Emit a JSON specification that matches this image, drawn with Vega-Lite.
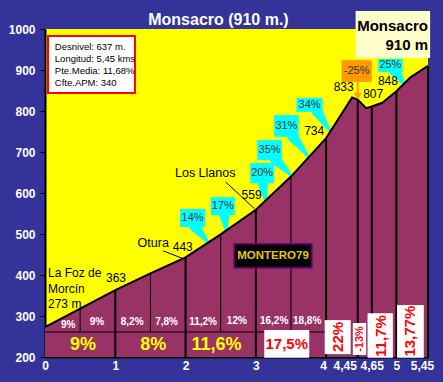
{
  "$schema": "https://vega.github.io/schema/vega-lite/v6.json",
  "width": 383,
  "height": 328,
  "autosize": {"type": "none"},
  "padding": {"left": 45, "top": 29, "right": 15, "bottom": 25},
  "background": "#333399",
  "config": {
    "view": {"fill": "#FFFF00", "stroke": null},
    "font": "Liberation Sans",
    "text": {"font": "Liberation Sans"}
  },
  "datasets": {
    "titletext": [{"label": "Monsacro (910 m.)", "x": 2.468, "y": 1010}],
    "profile": [
      {"x": 0, "y": 273}, {"x": 0.5, "y": 318}, {"x": 1, "y": 363}, {"x": 1.5, "y": 404},
      {"x": 2, "y": 443}, {"x": 2.5, "y": 499}, {"x": 3, "y": 559}, {"x": 3.5, "y": 640},
      {"x": 4, "y": 734}, {"x": 4.37, "y": 833}, {"x": 4.45, "y": 828}, {"x": 4.57, "y": 807},
      {"x": 4.65, "y": 811}, {"x": 4.8, "y": 820}, {"x": 5, "y": 848}, {"x": 5.2, "y": 882}, {"x": 5.45, "y": 910}
    ],
    "halfrules": [
      {"x": 0.5, "y": 318, "y2": 261}, {"x": 1.5, "y": 404, "y2": 261},
      {"x": 2.5, "y": 499, "y2": 261}, {"x": 3.5, "y": 640, "y2": 261}
    ],
    "fullrules": [
      {"x": 1, "y": 363, "y2": 200}, {"x": 2, "y": 443, "y2": 200}, {"x": 3, "y": 559, "y2": 200},
      {"x": 4, "y": 734, "y2": 200}, {"x": 4.45, "y": 828, "y2": 200}, {"x": 4.65, "y": 811, "y2": 200},
      {"x": 5, "y": 848, "y2": 200}, {"x": 5.45, "y": 910, "y2": 200}
    ],
    "hline": [{"x": 0, "x2": 4, "y": 261}],
    "pointers": [
      {"id": "14", "t": 0, "x": 2.13, "y": 519}, {"id": "14", "t": 1, "x": 2.33, "y": 478},
      {"id": "17", "t": 0, "x": 2.55, "y": 548}, {"id": "17", "t": 1, "x": 2.58, "y": 506},
      {"id": "20", "t": 0, "x": 3.10, "y": 626}, {"id": "20", "t": 1, "x": 3.14, "y": 578},
      {"id": "35", "t": 0, "x": 3.28, "y": 682}, {"id": "35", "t": 1, "x": 3.52, "y": 640},
      {"id": "31", "t": 0, "x": 3.52, "y": 739}, {"id": "31", "t": 1, "x": 3.76, "y": 686},
      {"id": "34", "t": 0, "x": 3.87, "y": 800}, {"id": "34", "t": 1, "x": 4.06, "y": 750},
      {"id": "25", "t": 0, "x": 4.98, "y": 897}, {"id": "25", "t": 1, "x": 5.13, "y": 862}
    ],
    "callouts": [
      {"label": "14%", "x1": 1.92, "x2": 2.28, "y1": 561, "y2": 517, "cx": 2.10, "cy": 539},
      {"label": "17%", "x1": 2.36, "x2": 2.70, "y1": 590, "y2": 546, "cx": 2.53, "cy": 568},
      {"label": "20%", "x1": 2.92, "x2": 3.26, "y1": 673, "y2": 624, "cx": 3.09, "cy": 649},
      {"label": "35%", "x1": 3.02, "x2": 3.37, "y1": 729, "y2": 680, "cx": 3.195, "cy": 705},
      {"label": "31%", "x1": 3.26, "x2": 3.61, "y1": 790, "y2": 737, "cx": 3.435, "cy": 763},
      {"label": "34%", "x1": 3.58, "x2": 3.95, "y1": 832, "y2": 798, "cx": 3.765, "cy": 815},
      {"label": "25%", "x1": 4.74, "x2": 5.09, "y1": 927, "y2": 895, "cx": 4.915, "cy": 911}
    ],
    "orange": [{"label": "-25%", "x1": 4.22, "x2": 4.65, "y1": 924, "y2": 871, "cx": 4.435, "cy": 898, "ax": 4.45, "ay": 871, "ay2": 842, "hy": 836}],
    "alts": [
      {"label": "363", "x": 1.01, "y": 393}, {"label": "443", "x": 1.96, "y": 468},
      {"label": "559", "x": 2.94, "y": 595}, {"label": "734", "x": 3.83, "y": 751},
      {"label": "833", "x": 4.25, "y": 859}, {"label": "807", "x": 4.67, "y": 841},
      {"label": "848", "x": 4.88, "y": 873}
    ],
    "places": [
      {"label": "La Foz de", "x": 0.043, "y": 405, "a": "left"},
      {"label": "Morcín", "x": 0.043, "y": 366, "a": "left"},
      {"label": "273 m", "x": 0.043, "y": 329, "a": "left"},
      {"label": "Otura", "x": 1.54, "y": 478, "a": "center"},
      {"label": "Los Llanos", "x": 2.28, "y": 649, "a": "center"}
    ],
    "leaders": [
      {"x": 1.68, "y": 459, "x2": 1.95, "y2": 441},
      {"x": 2.57, "y": 627, "x2": 2.98, "y2": 562}
    ],
    "small": [
      {"label": "9%", "x": 0.33, "y": 279}, {"label": "9%", "x": 0.74, "y": 285},
      {"label": "8,2%", "x": 1.24, "y": 285}, {"label": "7,8%", "x": 1.73, "y": 286},
      {"label": "11,2%", "x": 2.25, "y": 285}, {"label": "12%", "x": 2.73, "y": 289},
      {"label": "16,2%", "x": 3.26, "y": 287}, {"label": "18,8%", "x": 3.73, "y": 287}
    ],
    "big": [
      {"label": "9%", "x": 0.54, "y": 229}, {"label": "8%", "x": 1.54, "y": 229}, {"label": "11,6%", "x": 2.44, "y": 229}
    ],
    "wboxes": [
      {"label": "17,5%", "x1": 3.12, "x2": 3.76, "y1": 266, "y2": 198, "cx": 3.44, "cy": 232, "kind": "h"},
      {"label": "22%", "x1": 3.98, "x2": 4.35, "y1": 290, "y2": 207, "cx": 4.17, "cy": 249, "kind": "v"},
      {"label": "-13%", "x1": 4.38, "x2": 4.57, "y1": 283, "y2": 205, "cx": 4.48, "cy": 244, "kind": "s"},
      {"label": "11,7%", "x1": 4.59, "x2": 4.95, "y1": 307, "y2": 198, "cx": 4.78, "cy": 251, "kind": "v"},
      {"label": "13,77%", "x1": 5.01, "x2": 5.39, "y1": 327, "y2": 198, "cx": 5.19, "cy": 263, "kind": "v"}
    ],
    "montero": [{"label": "MONTERO79", "x1": 2.69, "x2": 3.80, "y1": 476, "y2": 417, "cx": 3.245, "cy": 446}],
    "summit": [{"x1": 4.42, "x2": 5.48, "y1": 1044, "y2": 929}],
    "summittext": [{"label": "Monsacro", "x": 5.45, "y": 995}, {"label": "910 m", "x": 5.45, "y": 949}],
    "info": [{"x1": 0.043, "x2": 1.28, "y1": 983, "y2": 844}],
    "infotext": [
      {"label": "Desnivel: 637 m.", "x": 0.14, "y": 956},
      {"label": "Longitud: 5,45 kms", "x": 0.14, "y": 927},
      {"label": "Pte.Media: 11,68%", "x": 0.14, "y": 897},
      {"label": "Cfte.APM: 340", "x": 0.14, "y": 868}
    ]
  },
  "layer": [
    {
      "data": {"name": "profile"},
      "mark": {"type": "area", "color": "#993366"},
      "encoding": {
        "x": {"field": "x", "type": "quantitative", "title": null,
          "scale": {"domain": [0, 5.45], "nice": false, "zero": false},
          "axis": {"values": [0, 1, 2, 3, 4, 4.45, 4.65, 5, 5.45], "grid": false, "ticks": false,
            "domainColor": "black", "domainWidth": 2, "labelColor": "white", "labelFont": "Liberation Sans",
            "labelFontSize": 12, "labelFontWeight": "bold", "labelPadding": 3, "labelOverlap": false, "labelBound": false,
            "labelFlush": false,
            "labelExpr": "replace(toString(datum.value), '.', ',')",
            "labelOffset": {"condition": [{"test": "datum.value == 4.45", "value": -13}, {"test": "datum.value == 5.45", "value": -6}, {"test": "datum.value == 4", "value": -3}], "value": 0}}},
        "y": {"field": "y", "type": "quantitative", "title": null,
          "scale": {"domain": [200, 1000], "nice": false, "zero": false},
          "axis": {"values": [200, 300, 400, 500, 600, 700, 800, 900, 1000], "grid": false, "format": "d",
            "domainColor": "black", "domainWidth": 2, "tickColor": "black", "tickSize": 5, "tickWidth": 1,
            "labelColor": "white", "labelFont": "Liberation Sans", "labelFontSize": 12, "labelFontWeight": "bold",
            "labelPadding": 5, "labelOverlap": false, "labelBound": false, "labelFlush": false}},
        "y2": {"datum": 200}
      }
    },
    {
      "data": {"name": "pointers"},
      "mark": {"type": "trail", "color": "#00FFFF"},
      "encoding": {
        "x": {"field": "x", "type": "quantitative"},
        "y": {"field": "y", "type": "quantitative"},
        "detail": {"field": "id"},
        "order": {"field": "t"},
        "size": {"field": "t", "type": "quantitative", "scale": {"domain": [0, 1], "range": [11, 2]}, "legend": null}
      }
    },
    {
      "data": {"name": "profile"},
      "mark": {"type": "area", "color": "#993366"},
      "encoding": {
        "x": {"field": "x", "type": "quantitative"},
        "y": {"field": "y", "type": "quantitative"},
        "y2": {"datum": 200}
      }
    },
    {
      "data": {"name": "profile"},
      "mark": {"type": "line", "color": "black", "strokeWidth": 2},
      "encoding": {
        "x": {"field": "x", "type": "quantitative"},
        "y": {"field": "y", "type": "quantitative"}
      }
    },
    {
      "data": {"name": "halfrules"},
      "mark": {"type": "rule", "color": "black", "strokeWidth": 1},
      "encoding": {
        "x": {"field": "x", "type": "quantitative"},
        "y": {"field": "y", "type": "quantitative"},
        "y2": {"field": "y2"}
      }
    },
    {
      "data": {"name": "fullrules"},
      "mark": {"type": "rule", "color": "black", "strokeWidth": 2},
      "encoding": {
        "x": {"field": "x", "type": "quantitative"},
        "y": {"field": "y", "type": "quantitative"},
        "y2": {"field": "y2"}
      }
    },
    {
      "data": {"name": "hline"},
      "mark": {"type": "rule", "color": "black", "strokeWidth": 1},
      "encoding": {
        "x": {"field": "x", "type": "quantitative"},
        "x2": {"field": "x2"},
        "y": {"field": "y", "type": "quantitative"}
      }
    },
    {
      "data": {"name": "callouts"},
      "mark": {"type": "rect", "color": "#00FFFF"},
      "encoding": {
        "x": {"field": "x1", "type": "quantitative"}, "x2": {"field": "x2"},
        "y": {"field": "y1", "type": "quantitative"}, "y2": {"field": "y2"}
      }
    },
    {
      "data": {"name": "callouts"},
      "mark": {"type": "text", "color": "#333333", "fontSize": 11, "align": "center", "baseline": "middle"},
      "encoding": {
        "x": {"field": "cx", "type": "quantitative"},
        "y": {"field": "cy", "type": "quantitative"},
        "text": {"field": "label"}
      }
    },
    {
      "data": {"name": "orange"},
      "mark": {"type": "rule", "color": "#FF9900", "strokeWidth": 2},
      "encoding": {
        "x": {"field": "ax", "type": "quantitative"},
        "y": {"field": "ay", "type": "quantitative"}, "y2": {"field": "ay2"}
      }
    },
    {
      "data": {"name": "orange"},
      "mark": {"type": "point", "shape": "triangle-down", "filled": true, "color": "#FF9900", "size": 60, "opacity": 1},
      "encoding": {
        "x": {"field": "ax", "type": "quantitative"},
        "y": {"field": "hy", "type": "quantitative"}
      }
    },
    {
      "data": {"name": "orange"},
      "mark": {"type": "rect", "color": "#FF9900"},
      "encoding": {
        "x": {"field": "x1", "type": "quantitative"}, "x2": {"field": "x2"},
        "y": {"field": "y1", "type": "quantitative"}, "y2": {"field": "y2"}
      }
    },
    {
      "data": {"name": "orange"},
      "mark": {"type": "text", "color": "#333333", "fontSize": 11, "align": "center", "baseline": "middle"},
      "encoding": {
        "x": {"field": "cx", "type": "quantitative"},
        "y": {"field": "cy", "type": "quantitative"},
        "text": {"field": "label"}
      }
    },
    {
      "data": {"name": "alts"},
      "mark": {"type": "text", "color": "black", "fontSize": 12, "align": "center", "baseline": "middle"},
      "encoding": {
        "x": {"field": "x", "type": "quantitative"},
        "y": {"field": "y", "type": "quantitative"},
        "text": {"field": "label"}
      }
    },
    {
      "data": {"name": "places"},
      "transform": [{"filter": "datum.a == 'left'"}],
      "mark": {"type": "text", "color": "black", "fontSize": 12, "align": "left", "baseline": "middle"},
      "encoding": {
        "x": {"field": "x", "type": "quantitative"},
        "y": {"field": "y", "type": "quantitative"},
        "text": {"field": "label"}
      }
    },
    {
      "data": {"name": "places"},
      "transform": [{"filter": "datum.a == 'center'"}],
      "mark": {"type": "text", "color": "black", "fontSize": 12.5, "align": "center", "baseline": "middle"},
      "encoding": {
        "x": {"field": "x", "type": "quantitative"},
        "y": {"field": "y", "type": "quantitative"},
        "text": {"field": "label"}
      }
    },
    {
      "data": {"name": "leaders"},
      "mark": {"type": "rule", "color": "black", "strokeWidth": 1},
      "encoding": {
        "x": {"field": "x", "type": "quantitative"}, "x2": {"field": "x2"},
        "y": {"field": "y", "type": "quantitative"}, "y2": {"field": "y2"}
      }
    },
    {
      "data": {"name": "small"},
      "mark": {"type": "text", "color": "white", "fontSize": 10, "fontWeight": "bold", "align": "center", "baseline": "middle"},
      "encoding": {
        "x": {"field": "x", "type": "quantitative"},
        "y": {"field": "y", "type": "quantitative"},
        "text": {"field": "label"}
      }
    },
    {
      "data": {"name": "big"},
      "mark": {"type": "text", "color": "#FFFF00", "fontSize": 18, "fontWeight": "bold", "align": "center", "baseline": "middle"},
      "encoding": {
        "x": {"field": "x", "type": "quantitative"},
        "y": {"field": "y", "type": "quantitative"},
        "text": {"field": "label"}
      }
    },
    {
      "data": {"name": "wboxes"},
      "mark": {"type": "rect", "color": "white"},
      "encoding": {
        "x": {"field": "x1", "type": "quantitative"}, "x2": {"field": "x2"},
        "y": {"field": "y1", "type": "quantitative"}, "y2": {"field": "y2"}
      }
    },
    {
      "data": {"name": "wboxes"},
      "transform": [{"filter": "datum.kind == 'h'"}],
      "mark": {"type": "text", "color": "#FF0000", "fontSize": 15, "fontWeight": "bold", "align": "center", "baseline": "middle"},
      "encoding": {
        "x": {"field": "cx", "type": "quantitative"},
        "y": {"field": "cy", "type": "quantitative"},
        "text": {"field": "label"}
      }
    },
    {
      "data": {"name": "wboxes"},
      "transform": [{"filter": "datum.kind == 'v'"}],
      "mark": {"type": "text", "color": "#FF0000", "fontSize": 15, "fontWeight": "bold", "align": "center", "baseline": "middle", "angle": 270},
      "encoding": {
        "x": {"field": "cx", "type": "quantitative"},
        "y": {"field": "cy", "type": "quantitative"},
        "text": {"field": "label"}
      }
    },
    {
      "data": {"name": "wboxes"},
      "transform": [{"filter": "datum.kind == 's'"}],
      "mark": {"type": "text", "color": "#FF0000", "fontSize": 11, "fontWeight": "bold", "align": "center", "baseline": "middle", "angle": 270},
      "encoding": {
        "x": {"field": "cx", "type": "quantitative"},
        "y": {"field": "cy", "type": "quantitative"},
        "text": {"field": "label"}
      }
    },
    {
      "data": {"name": "montero"},
      "mark": {"type": "rect", "color": "black", "stroke": "#800080", "strokeWidth": 1.5},
      "encoding": {
        "x": {"field": "x1", "type": "quantitative"}, "x2": {"field": "x2"},
        "y": {"field": "y1", "type": "quantitative"}, "y2": {"field": "y2"}
      }
    },
    {
      "data": {"name": "montero"},
      "mark": {"type": "text", "color": "#E8C800", "fontSize": 11.5, "fontWeight": "bold", "align": "center", "baseline": "middle"},
      "encoding": {
        "x": {"field": "cx", "type": "quantitative"},
        "y": {"field": "cy", "type": "quantitative"},
        "text": {"field": "label"}
      }
    },
    {
      "data": {"name": "summit"},
      "mark": {"type": "rect", "color": "#FFFFCC"},
      "encoding": {
        "x": {"field": "x1", "type": "quantitative"}, "x2": {"field": "x2"},
        "y": {"field": "y1", "type": "quantitative"}, "y2": {"field": "y2"}
      }
    },
    {
      "data": {"name": "summittext"},
      "mark": {"type": "text", "color": "black", "fontSize": 15, "fontWeight": "bold", "align": "right", "baseline": "alphabetic"},
      "encoding": {
        "x": {"field": "x", "type": "quantitative"},
        "y": {"field": "y", "type": "quantitative"},
        "text": {"field": "label"}
      }
    },
    {
      "data": {"name": "titletext"},
      "mark": {"type": "text", "color": "white", "fontSize": 16, "fontWeight": "bold", "align": "center", "baseline": "alphabetic"},
      "encoding": {
        "x": {"field": "x", "type": "quantitative"},
        "y": {"field": "y", "type": "quantitative"},
        "text": {"field": "label"}
      }
    },
    {
      "data": {"name": "info"},
      "mark": {"type": "rect", "color": "white", "stroke": "#FF0000", "strokeWidth": 2},
      "encoding": {
        "x": {"field": "x1", "type": "quantitative"}, "x2": {"field": "x2"},
        "y": {"field": "y1", "type": "quantitative"}, "y2": {"field": "y2"}
      }
    },
    {
      "data": {"name": "infotext"},
      "mark": {"type": "text", "color": "black", "fontSize": 9.5, "align": "left", "baseline": "middle"},
      "encoding": {
        "x": {"field": "x", "type": "quantitative"},
        "y": {"field": "y", "type": "quantitative"},
        "text": {"field": "label"}
      }
    }
  ]
}
